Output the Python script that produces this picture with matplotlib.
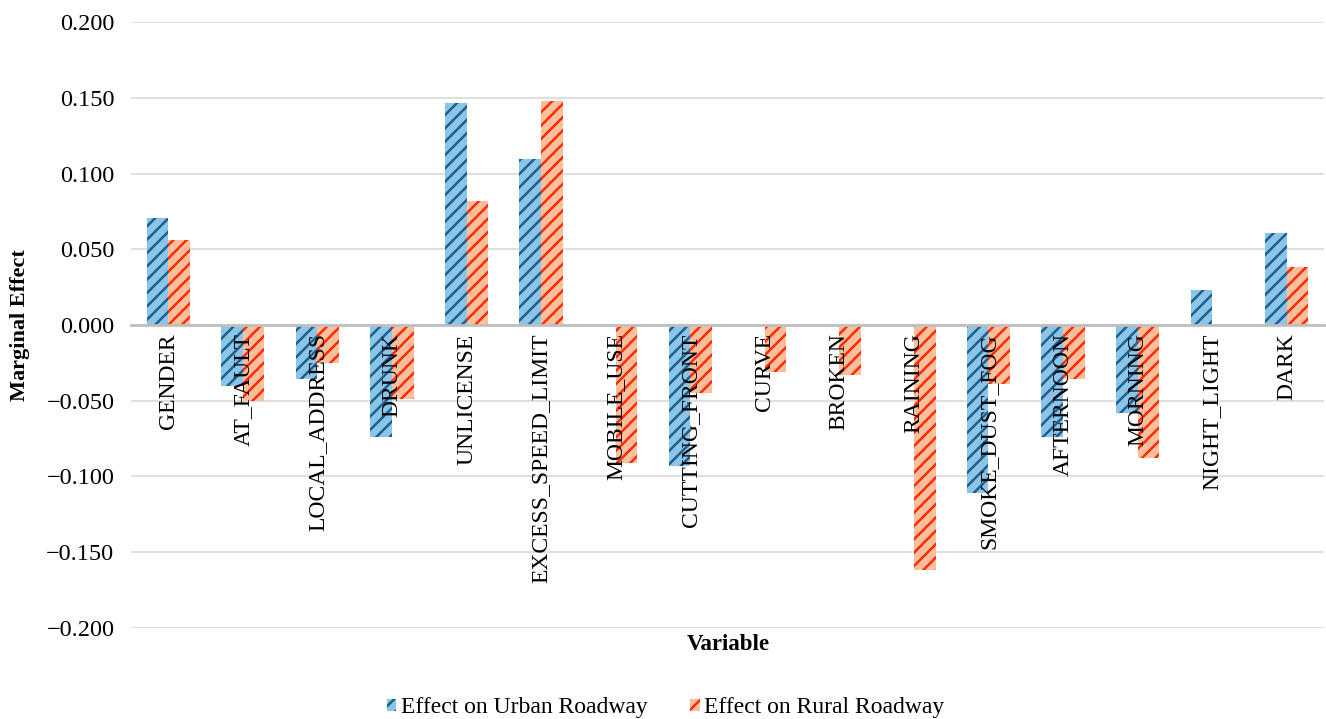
import matplotlib.pyplot as plt
import numpy as np

# rendered at 80 dpi so the hatch tiles come out finer; sizes scaled by k
DPI = 80
k = 100 / DPI

plt.rcParams['font.family'] = ['Liberation Serif', 'DejaVu Serif']
plt.rcParams['hatch.linewidth'] = 2.2

variables = ['GENDER', 'AT_FAULT', 'LOCAL_ADDRESS', 'DRUNK', 'UNLICENSE',
             'EXCESS_SPEED_LIMIT', 'MOBILE_USE', 'CUTTING_FRONT', 'CURVE',
             'BROKEN', 'RAINING', 'SMOKE_DUST_FOG', 'AFTERNOON', 'MORNING',
             'NIGHT_LIGHT', 'DARK']
urban = [0.071, -0.040, -0.036, -0.074, 0.147, 0.110, 0.0, -0.093, 0.0,
         0.0, 0.0, -0.111, -0.074, -0.058, 0.023, 0.061]
rural = [0.056, -0.050, -0.025, -0.049, 0.082, 0.148, -0.091, -0.045, -0.031,
         -0.033, -0.162, -0.039, -0.036, -0.088, 0.0, 0.038]
yticks = [-0.2, -0.15, -0.1, -0.05, 0.0, 0.05, 0.1, 0.15, 0.2]

fig = plt.figure(figsize=(1326 / DPI, 719 / DPI), dpi=DPI)
ax = fig.add_axes([0.0988, 0.127, 0.8997, 0.842])

x = np.arange(len(variables))
w = 0.29
ax.bar(x - w / 2, urban, w, color='#8CC4E8', edgecolor='#1A5E8E', hatch='//',
       linewidth=0, label='Effect on Urban Roadway', zorder=2)
ax.bar(x + w / 2, rural, w, color='#FDBE9C', edgecolor='#FF2A00', hatch='//',
       linewidth=0, label='Effect on Rural Roadway', zorder=2)

ax.set_xlim(-0.5, len(variables) - 0.5)
ax.set_ylim(-0.2, 0.2)
ax.set_yticks(yticks)
ax.set_yticklabels([('\u2212%.3f' % -v if v < 0 else '%.3f' % v) for v in yticks],
                   fontsize=17.5 * k)
ax.yaxis.grid(True, color='#D9D9D9', linewidth=1.2 * k, zorder=0)
ax.set_axisbelow(True)

for s in ['top', 'right', 'left']:
    ax.spines[s].set_visible(False)
ax.spines['bottom'].set_position(('data', 0))
ax.spines['bottom'].set_color('#BFBFBF')
ax.spines['bottom'].set_linewidth(2 * k)
ax.spines['bottom'].set_zorder(3)

ax.set_xticks(x)
ax.set_xticklabels(variables, rotation=90, fontsize=17 * k, va='top', ha='center')
ax.tick_params(axis='x', length=0, pad=6 * k)
ax.tick_params(axis='y', length=0, pad=12 * k)
ax.xaxis.set_zorder(5)

ax.set_ylabel('Marginal Effect', fontsize=16 * k, fontweight='bold', labelpad=12 * k)
fig.text(0.549, 0.103, 'Variable', fontsize=16.5 * k, fontweight='bold',
         ha='center', va='center')

fig.legend(loc='center', bbox_to_anchor=(0.502, 0.016), ncol=2, frameon=False,
           fontsize=17 * k, handlelength=0.4, handleheight=0.4, handletextpad=0.2,
           columnspacing=1.8)

fig.savefig('out.png', dpi=DPI)
